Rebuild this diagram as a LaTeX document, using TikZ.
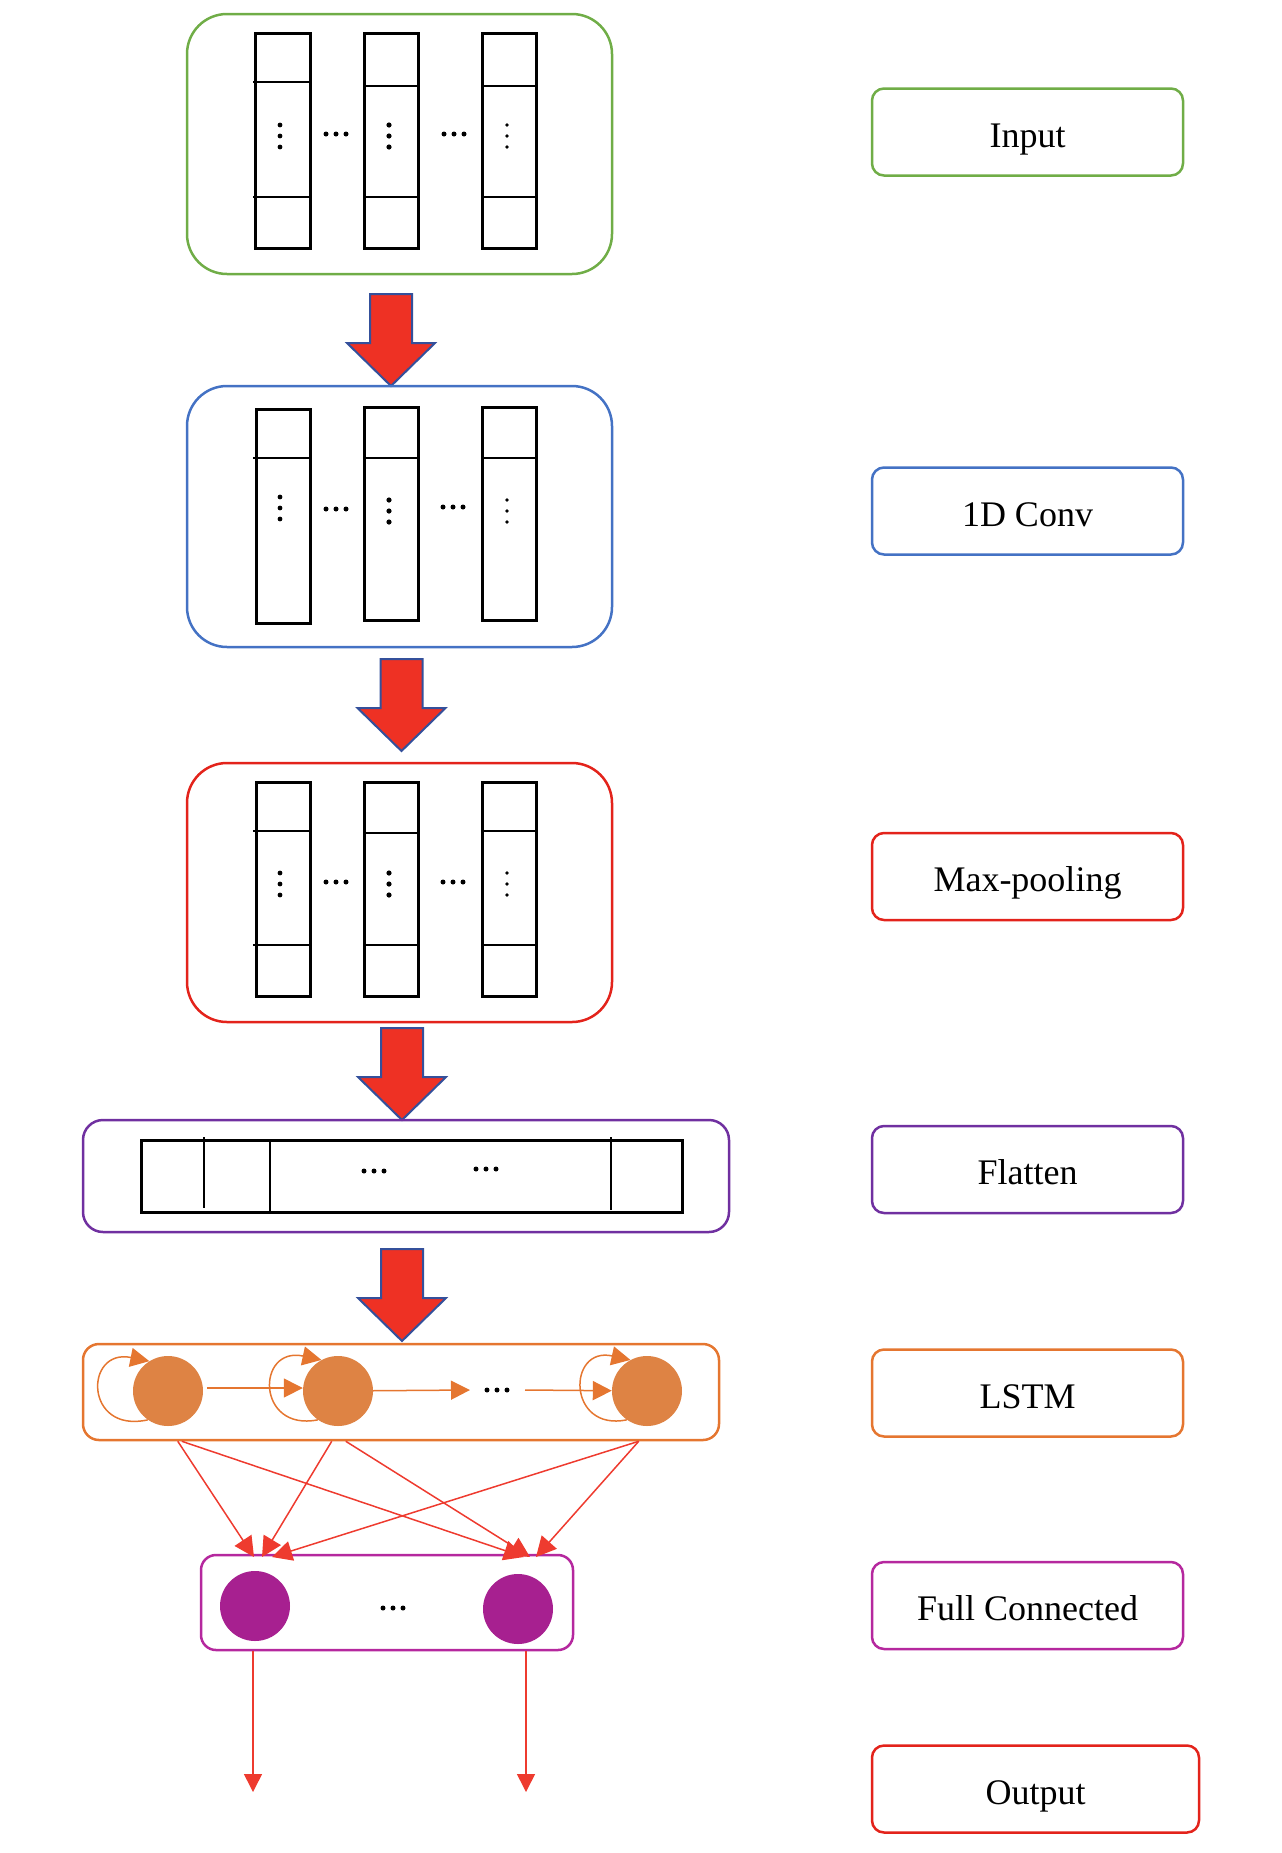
\documentclass[tikz,border=0pt]{standalone}
\usepackage{fontspec}
\setmainfont{Liberation Serif}
\usetikzlibrary{arrows.meta,calc,backgrounds}
\definecolor{cGreen}{HTML}{70AD47}
\definecolor{cBlue}{HTML}{4472C4}
\definecolor{cRed}{HTML}{E3231B}
\definecolor{cPurple}{HTML}{7030A0}
\definecolor{cOrange}{HTML}{E57630}
\definecolor{cOrFill}{HTML}{DE8344}
\definecolor{cMag}{HTML}{B5289E}
\definecolor{cMagFill}{HTML}{A72090}
\definecolor{cLine}{HTML}{EE3B2F}
\definecolor{cArrFill}{HTML}{EE3124}
\definecolor{cArrEdge}{HTML}{34509B}
\newcommand\hdts[2]{\foreach \d in {-10,0,10} {\fill (#1+\d,#2) circle (2.5pt);}}
\newcommand\vdts[3]{\foreach \d in {-11,0,11} {\fill (#1,#2+\d) circle (#3);}}
\newcommand\lbltext[1]{\raisebox{-15pt}[0pt][0pt]{#1}}
\begin{document}
\begin{tikzpicture}[x=1pt,y=-1pt,
  grp/.style={draw, line width=2.5pt, rounded corners=40pt, minimum width=425pt, minimum height=260pt, inner sep=0pt},
  band/.style={draw, line width=2.5pt, rounded corners=16pt, inner sep=0pt},
  colrect/.style={draw=black, line width=3pt},
  sepline/.style={draw=black, line width=2.5pt},
  lbl/.style={draw, line width=2.5pt, rounded corners=12pt, minimum width=311pt, minimum height=87pt, inner sep=0pt, font=\fontsize{36}{43}\selectfont},
  bigarrow/.style={fill=cArrFill, draw=cArrEdge, line width=2pt, line join=miter},
  lcirc/.style={circle, fill=cOrFill, minimum size=70pt, inner sep=0pt},
  fcirc/.style={circle, fill=cMagFill, minimum size=70pt, inner sep=0pt},
  oarr/.style={draw=cOrange, line width=1.5pt, -{Triangle[length=19pt,width=19pt]}},
  rarr/.style={draw=cLine, line width=1.5pt, -{Triangle[length=20pt,width=20pt]}},
  blockarr/.pic={\draw[bigarrow] (-21,0) -- (21,0) -- (21,49) -- (44,49) -- (0,92) -- (-44,49) -- (-21,49) -- cycle;}
]
\useasboundingbox (0,0) rectangle (1282,1853);

% ---------- Input group ----------
\node[grp, draw=cGreen] (inbox) at (399.5,144) {};
\draw[colrect] (255,33) rectangle (310,248);
\draw[colrect] (364,33) rectangle (418,248);
\draw[colrect] (482,33) rectangle (536,248);
\draw[sepline] (253,82) -- (310,82);
\draw[sepline] (253,197) -- (310,197);
\draw[sepline] (364,86) -- (418,86);
\draw[sepline] (364,197) -- (418,197);
\draw[sepline] (482,86) -- (536,86);
\draw[sepline] (482,197) -- (536,197);
\vdts{280}{136}{2.4pt}
\vdts{389}{136}{2.6pt}
\vdts{507}{136}{1.9pt}
\hdts{336}{134}
\hdts{454}{134}

\pic at (391,294) {blockarr};

% ---------- 1D Conv group ----------
\node[grp, draw=cBlue, minimum height=261pt] (convbox) at (399.5,516.5) {};
\draw[colrect] (256,409) rectangle (310,623);
\draw[colrect] (364,407) rectangle (418,620);
\draw[colrect] (482,407) rectangle (536,620);
\draw[sepline] (253,458) -- (310,458);
\draw[sepline] (364,458) -- (418,458);
\draw[sepline] (482,458) -- (536,458);
\vdts{280}{508}{2.4pt}
\vdts{389}{511}{2.6pt}
\vdts{507}{511}{1.9pt}
\hdts{336}{509}
\hdts{453}{507}

\pic at (401.5,659) {blockarr};

% ---------- Max-pooling group ----------
\node[grp, draw=cRed, minimum height=259pt] (poolbox) at (399.5,892.5) {};
\draw[colrect] (256,782) rectangle (310,996);
\draw[colrect] (364,782) rectangle (418,996);
\draw[colrect] (482,782) rectangle (536,996);
\draw[sepline] (253,831) -- (310,831);
\draw[sepline] (253,945) -- (310,945);
\draw[sepline] (364,833) -- (418,833);
\draw[sepline] (364,945) -- (418,945);
\draw[sepline] (482,831) -- (536,831);
\draw[sepline] (482,945) -- (536,945);
\vdts{280}{884}{2.4pt}
\vdts{389}{884}{2.6pt}
\vdts{507}{884}{1.9pt}
\hdts{336}{882}
\hdts{453}{882}

\pic at (402,1028) {blockarr};

% ---------- Flatten ----------
\node[band, draw=cPurple, rounded corners=20pt, minimum width=646pt, minimum height=112pt] (flatbox) at (406,1176) {};
\draw[colrect] (141,1140) rectangle (682,1212);
\draw[sepline] (204,1137) -- (204,1208);
\draw[sepline] (270,1140) -- (270,1212);
\draw[sepline] (611,1137) -- (611,1210);
\hdts{374}{1171}
\hdts{486}{1169}

\pic at (402,1249) {blockarr};

% ---------- LSTM ----------
\node[band, draw=cOrange, minimum width=636pt, minimum height=96pt] (lstm) at (401,1392) {};
\node[lcirc] (l1) at (168,1391) {};
\node[lcirc] (l2) at (338,1391) {};
\node[lcirc] (l3) at (647,1391) {};
\coordinate (ldots) at (497,1390);
\begin{scope}[on background layer]
\draw[oarr] (l1.235) .. controls (84,1434) and (84,1348) .. (l1.122);
\draw[oarr] (l2.235) .. controls (256,1432) and (256,1346) .. (l2.118);
\draw[oarr] (l3.235) .. controls (567,1432) and (567,1346) .. (l3.118);
\end{scope}
\draw[oarr] ($(l1.east)+(4,-3)$) -- ($(l2.west)+(0,-3)$);
\draw[oarr] (l2) -- ($(ldots)+(-27,0)$);
\draw[oarr] ($(ldots)+(28,0)$) -- (l3);
\hdts{497}{1390}

% ---------- Full Connected ----------
\node[band, draw=cMag, rounded corners=15pt, minimum width=372pt, minimum height=95pt] (fc) at (387,1602.5) {};
\node[fcirc] (f1) at (255,1606) {};
\node[fcirc] (f2) at (518,1609) {};
\hdts{393}{1608}

\coordinate (s1) at ($(lstm.south west)+(96,0)$);
\coordinate (s2) at ($(lstm.south west)+(100,0)$);
\coordinate (s3) at ($(lstm.south west)+(250,0)$);
\coordinate (s4) at ($(lstm.south west)+(264,0)$);
\coordinate (s5) at ($(lstm.south west)+(557,0)$);
\coordinate (a1) at (254,1557);
\coordinate (a2) at (262,1557);
\coordinate (a3) at (272,1557);
\coordinate (b1) at (524,1557);
\coordinate (b2) at (530,1557);
\coordinate (b3) at (536,1557);
\draw[rarr] (s1) -- (a1);
\draw[rarr] (s2) -- (b1);
\draw[rarr] (s3) -- (a2);
\draw[rarr] (s4) -- (b2);
\draw[rarr] (s5) -- (a3);
\draw[rarr] (s5) -- (b3);

\coordinate (o1) at (253,1792);
\coordinate (o2) at (526,1792);
\draw[draw=cLine, line width=1.5pt, -{Triangle[length=18pt,width=18pt]}] (fc.south -| o1) -- (o1);
\draw[draw=cLine, line width=1.5pt, -{Triangle[length=18pt,width=18pt]}] (fc.south -| o2) -- (o2);

% ---------- Labels ----------
\node[lbl, draw=cGreen] (lin) at (1027.5,132) {\lbltext{Input}};
\node[lbl, draw=cBlue] (lconv) at (1027.5,511) {\lbltext{1D Conv}};
\node[lbl, draw=cRed] (lpool) at (1027.5,876.5) {\lbltext{Max-pooling}};
\node[lbl, draw=cPurple] (lflat) at (1027.5,1169.5) {\lbltext{Flatten}};
\node[lbl, draw=cOrange] (llstm) at (1027.5,1393) {\lbltext{LSTM}};
\node[lbl, draw=cMag] (lfc) at (1027.5,1605.5) {\lbltext{Full Connected}};
\node[lbl, draw=cRed, minimum width=327pt] (lout) at (1035.5,1789) {\lbltext{Output}};
\end{tikzpicture}
\end{document}
